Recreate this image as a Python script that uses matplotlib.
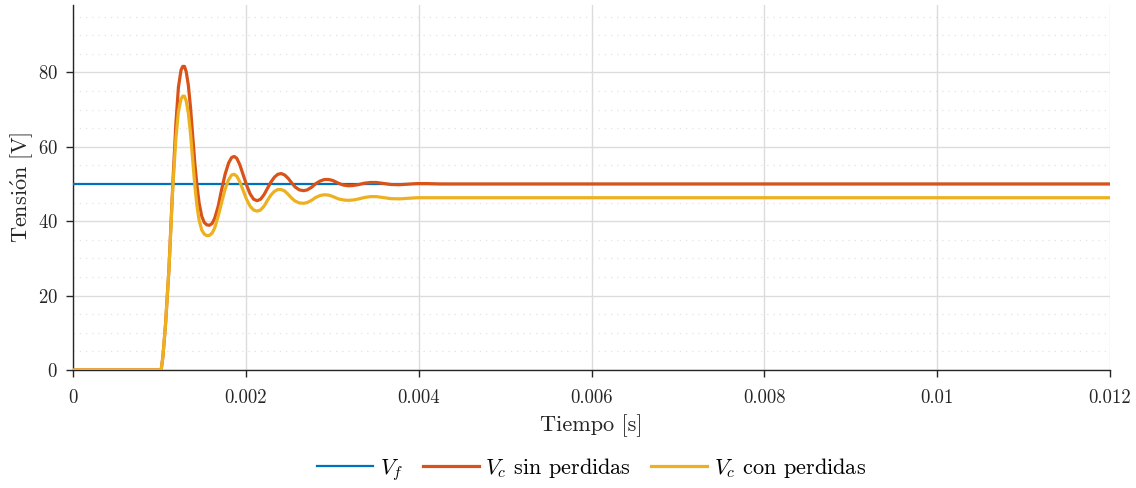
import numpy as np
import matplotlib
matplotlib.use("Agg")
import matplotlib.pyplot as plt
from matplotlib.ticker import MultipleLocator

plt.rcParams['font.family'] = ['cmr10', 'DejaVu Serif']
plt.rcParams['mathtext.fontset'] = 'cm'
plt.rcParams['axes.unicode_minus'] = False
plt.rcParams['axes.formatter.use_mathtext'] = True

# tiempos en ms
t_vc = [0.0, 1.020, 1.040, 1.070, 1.110, 1.155, 1.190, 1.220, 1.250, 1.270,
        1.290, 1.310, 1.335, 1.360, 1.385, 1.410, 1.435, 1.460, 1.490, 1.520,
        1.550, 1.580, 1.610, 1.640, 1.680, 1.720, 1.760, 1.800, 1.835, 1.865,
        1.895, 1.930, 1.970, 2.010, 2.050, 2.090, 2.130, 2.170, 2.210, 2.250,
        2.290, 2.330, 2.370, 2.410, 2.450, 2.490, 2.530, 2.570, 2.620, 2.670,
        2.710, 2.760, 2.810, 2.860, 2.910, 2.960, 3.010, 3.070, 3.130, 3.190,
        3.245, 3.300, 3.370, 3.440, 3.510, 3.590, 3.680, 3.780, 3.880, 3.980,
        4.100, 4.250, 12.0]
vc_sin = [0.0, 0.0, 3.5, 12.0, 27.0, 50.0, 66.0, 76.0, 80.6, 81.6,
          81.6, 80.2, 76.5, 70.5, 63.0, 55.5, 49.5, 44.8, 41.3, 39.6,
          39.0, 38.9, 39.4, 40.8, 44.0, 48.5, 52.6, 55.6, 57.1, 57.4,
          56.9, 55.2, 52.4, 49.6, 47.3, 45.9, 45.5, 45.9, 47.1, 48.8,
          50.5, 51.8, 52.6, 52.8, 52.4, 51.5, 50.3, 49.2, 48.4, 48.2,
          48.4, 49.1, 50.1, 50.8, 51.2, 51.2, 50.9, 50.2, 49.7, 49.5,
          49.6, 49.8, 50.2, 50.4, 50.4, 50.15, 49.85, 49.8, 49.95, 50.1,
          50.1, 50.0, 50.0]
vc_con = [0.0, 0.0, 3.5, 12.0, 27.0, 49.0, 62.0, 69.5, 72.8, 73.6,
          73.6, 72.3, 69.0, 63.5, 56.5, 49.5, 44.0, 40.2, 37.6, 36.5,
          36.1, 36.2, 36.8, 38.2, 41.3, 45.0, 48.6, 51.1, 52.4, 52.6,
          52.1, 50.6, 48.2, 45.8, 44.0, 43.0, 42.7, 43.0, 44.0, 45.6,
          47.0, 48.0, 48.5, 48.5, 48.1, 47.2, 46.2, 45.4, 44.9, 44.8,
          45.0, 45.6, 46.4, 46.9, 47.1, 47.0, 46.6, 46.0, 45.7, 45.6,
          45.7, 45.95, 46.35, 46.6, 46.6, 46.35, 46.05, 46.0, 46.15, 46.3,
          46.3, 46.3, 46.3]
t_vf = [0.0, 12.0]
vf = [50.0, 50.0]

x_ticks = [0, 0.002, 0.004, 0.006, 0.008, 0.01, 0.012]
x_labels = ['0', '0.002', '0.004', '0.006', '0.008', '0.01', '0.012']
y_ticks = [0, 20, 40, 60, 80]

fig = plt.figure(figsize=(11.36, 4.88), dpi=100)
ax = fig.add_axes([73/1136, 1-370/488, (1110-73)/1136, (370-5)/488])

t_vc_s = np.array(t_vc) * 1e-3
t_vf_s = np.array(t_vf) * 1e-3
ax.plot(t_vf_s, vf, color='#0072BD', lw=1.6, label=r'$V_f$', zorder=3)
ax.plot(t_vc_s, vc_sin, color='#D95319', lw=2.3, label=r'$V_c$ sin perdidas', zorder=4)
ax.plot(t_vc_s, vc_con, color='#EDB120', lw=2.3, label=r'$V_c$ con perdidas', zorder=5)

ax.set_xlim(0, 0.012)
ax.set_ylim(0, 98.1)
ax.set_xticks(x_ticks)
ax.set_xticklabels(x_labels)
ax.set_yticks(y_ticks)
ax.yaxis.set_minor_locator(MultipleLocator(5))

ax.grid(True, which='major', color='#dcdcdc', lw=1.0)
ax.grid(True, which='minor', axis='y', color='#e2e2e2', lw=0.9, linestyle=(0, (1, 4)))
ax.set_axisbelow(True)
for s in ['top', 'right']:
    ax.spines[s].set_visible(False)
for s in ['left', 'bottom']:
    ax.spines[s].set_color('#262626')
    ax.spines[s].set_linewidth(1.0)
ax.tick_params(which='major', direction='out', length=5, width=1.0,
               color='#262626', labelsize=13.5, labelcolor='#262626')
ax.tick_params(axis='x', pad=9)
ax.tick_params(axis='y', pad=6)
ax.tick_params(which='minor', length=0)

ax.set_xlabel('Tiempo [s]', fontsize=16, color='#262626', labelpad=5)
ax.set_ylabel(r'$\mathrm{Tensi\acute{o}n\ [V]}$', fontsize=16, color='#262626', labelpad=2)

ax.legend(loc='center', bbox_to_anchor=(0.5, -0.272), ncol=3, frameon=False,
          fontsize=16, handlelength=2.5, handletextpad=0.3, columnspacing=0.9)

fig.savefig('out.png', dpi=100)
